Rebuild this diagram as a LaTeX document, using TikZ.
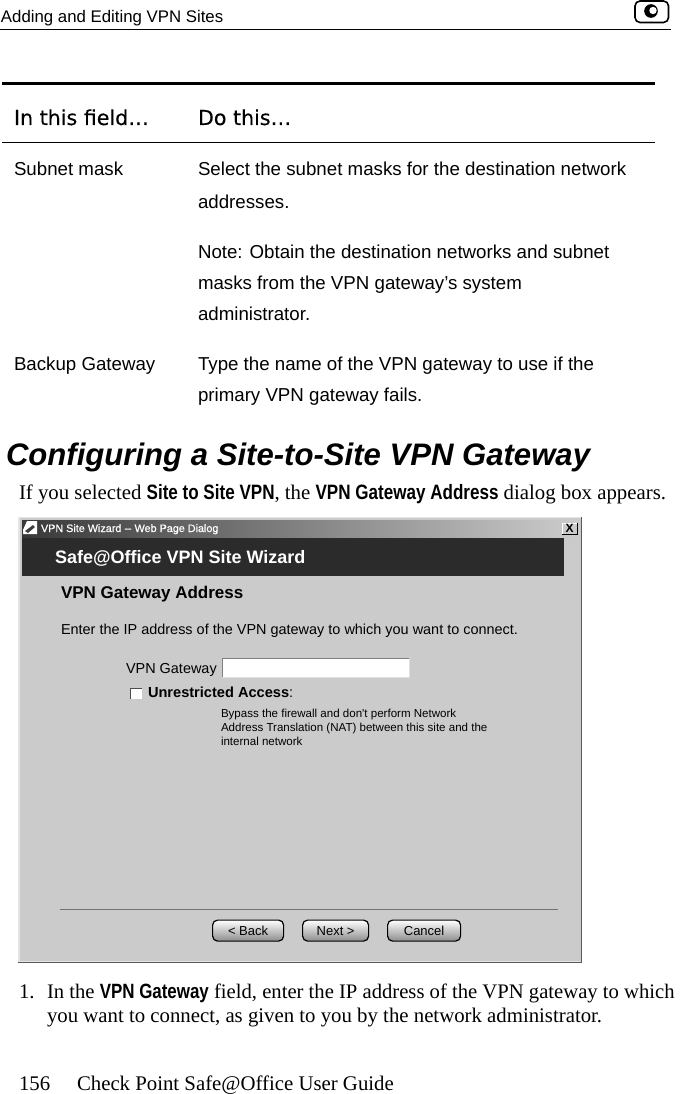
\documentclass[tikz,border=0pt]{standalone}
\usepackage{fontspec}
\setmainfont{Liberation Serif}
\newfontfamily\arial{Liberation Sans}
\newfontfamily\cond[FakeStretch=0.82]{Liberation Sans}
\newfontfamily\head[FakeBold=0.25]{DejaVu Sans}
\newfontfamily\uibold[FakeBold=0.5]{Liberation Sans}
\definecolor{panel}{HTML}{CBCBCB}
\definecolor{banner}{HTML}{2B2B2B}
\tikzset{
 txt/.style={anchor=base west,inner sep=0pt,outer sep=0pt},
 body/.style={txt,font=\arial\fontsize{18.7}{20}\selectfont},
 serif/.style={txt,font=\fontsize{20.8}{22}\selectfont},
 ui/.style={txt,font=\arial\fontsize{14.45}{16}\selectfont},
 uib/.style={txt,font=\arial\bfseries\fontsize{17}{19}\selectfont},
 small/.style={txt,font=\arial\fontsize{11.55}{13}\selectfont},
 btn/.style={draw=black,line width=1.2pt,top color=white,middle color=white,bottom color=black!45,rounded corners=5pt,minimum height=21pt,inner sep=0pt,anchor=north west,text height=10pt,text depth=1pt,font=\arial\fontsize{13}{14}\selectfont},
}
\newcommand{\kw}[1]{{\cond\bfseries #1}}
\begin{document}
\begin{tikzpicture}[x=1pt,y=-1pt]
\useasboundingbox[fill=white] (0,0) rectangle (680,1094);
% page header
\node[txt,font=\arial\fontsize{16.8}{18}\selectfont] (hdr) at (1,23) {Adding and Editing VPN Sites};
\coordinate (hl) at (0,29.5); \coordinate (hr) at (671,29.5);
\draw[line width=1pt] (hl) -- (hr);
\draw[line width=1.6pt,rounded corners=5pt] (635,1) rectangle (668.5,22.5);
\filldraw[line width=1.2pt] (651,11) circle (6.2);
\fill[white] (653,10.5) circle (3.7);
% table
\coordinate (t1) at (2,83.5); \coordinate (t2) at (655,83.5);
\draw[line width=3pt] (t1) -- (t2);
\node[txt,font=\head\fontsize{20.6}{22}\selectfont] (f1) at (14,125) {In this field\ldots};
\node[txt,font=\head\fontsize{20.6}{22}\selectfont] (f2) at (198,125) {Do this\ldots};
\coordinate (t3) at (2,142.5); \coordinate (t4) at (655,142.5);
\draw[line width=1pt] (t3) -- (t4);
\node[body] (a1) at (14,176) {Subnet mask};
\node[body] (b1) at (198,176) {Select the subnet masks for the destination network};
\node[body] (b2) at (198,208) {addresses.};
\node[body] (b3) at (198,258) {Note: Obtain the destination networks and subnet};
\node[body] (b4) at (198,289.5) {masks from the VPN gateway’s system};
\node[body] (b5) at (198,320.5) {administrator.};
\node[body] (a2) at (14,370.5) {Backup Gateway};
\node[body] (b6) at (198,370.5) {Type the name of the VPN gateway to use if the};
\node[body] (b7) at (198,401.5) {primary VPN gateway fails.};
% heading
\node[txt,font=\arial\bfseries\itshape\fontsize{31.1}{33}\selectfont] (h) at (6,465) {Configuring a Site-to-Site VPN Gateway};
\node[serif] (s1) at (19,499) {If you selected \kw{Site to Site VPN}, the \kw{VPN Gateway Address} dialog box appears.};
% screenshot
\fill[white!90!black] (18,516.5) rectangle (582,962);
\fill[panel] (20,518) rectangle (581,961);
\draw[black!65,line width=1pt] (581.5,517) -- (581.5,962) -- (18,962);
\shade[left color=black!78,right color=black!20] (22,520) rectangle (578,537);
\fill[banner] (22,538) rectangle (564,575.5);
\fill[panel] (562,523) rectangle (577,534);
\draw[white,line width=.7pt] (562,534) -- (562,523) -- (577,523);
\draw[black,line width=.7pt] (562,534) -- (577,534) -- (577,523);
\node[font=\arial\bfseries\fontsize{12}{12}\selectfont,inner sep=0pt] (x) at (569.5,528.5) {X};
% window icon
\fill[white] (27,521) -- (37,521) -- (37,534) -- (23,534) -- (23,530) -- cycle;
\fill[black!75] (25,531) -- (33,525) -- (35,527) -- (28,533) -- cycle;
\node[txt,white,font=\uibold\fontsize{10.8}{12}\selectfont] (ttl) at (41,532) {VPN Site Wizard -- Web Page Dialog};
\node[txt,white,font=\arial\bfseries\fontsize{18}{20}\selectfont] (w) at (55,563) {Safe@Office VPN Site Wizard};
\node[uib] (g) at (61,598) {VPN Gateway Address};
\node[ui] (e) at (61,634) {Enter the IP address of the VPN gateway to which you want to connect.};
\node[ui] (v) at (126,673) {VPN Gateway};
\fill[white] (222,658.5) rectangle (409,677);
\draw[black!50] (222,677) -- (222,658.5) -- (409,658.5);
\draw[black!12] (222,677) -- (409,677) -- (409,658.5);
\fill[white] (130,688) rectangle (141.5,698.5);
\draw[black!70,line width=1pt] (130,698.5) -- (130,688) -- (141.5,688);
\node[txt,font=\arial\bfseries\fontsize{14.6}{16}\selectfont] (u) at (148,697) {Unrestricted Access\textmd{:}};
\node[small] (n1) at (221,717) {Bypass the firewall and don't perform Network};
\node[small] (n2) at (221,731) {Address Translation (NAT) between this site and the};
\node[small] (n3) at (221,745) {internal network};
\coordinate (sl) at (60,909.5); \coordinate (sr) at (558,909.5);
\draw[black!55,line width=.8pt] (sl) -- (sr);
\node[btn,minimum width=71pt] (back) at (212,919.5) {< Back};
\node[btn,minimum width=66pt] (next) at (302,919.5) {Next >};
\node[btn,minimum width=73pt] (cancel) at (387,919.5) {Cancel};
% footer
\node[serif] (l1) at (19,998) {1.};
\node[serif,font=\fontsize{20.65}{22}\selectfont] (l2) at (47,998) {In the \kw{VPN Gateway} field, enter the IP address of the VPN gateway to which};
\node[serif] (l3) at (47,1022) {you want to connect, as given to you by the network administrator.};
\node[serif] (pg) at (19,1090) {156};
\node[serif] (pt) at (77,1090) {Check Point Safe@Office User Guide};
\end{tikzpicture}
\end{document}
